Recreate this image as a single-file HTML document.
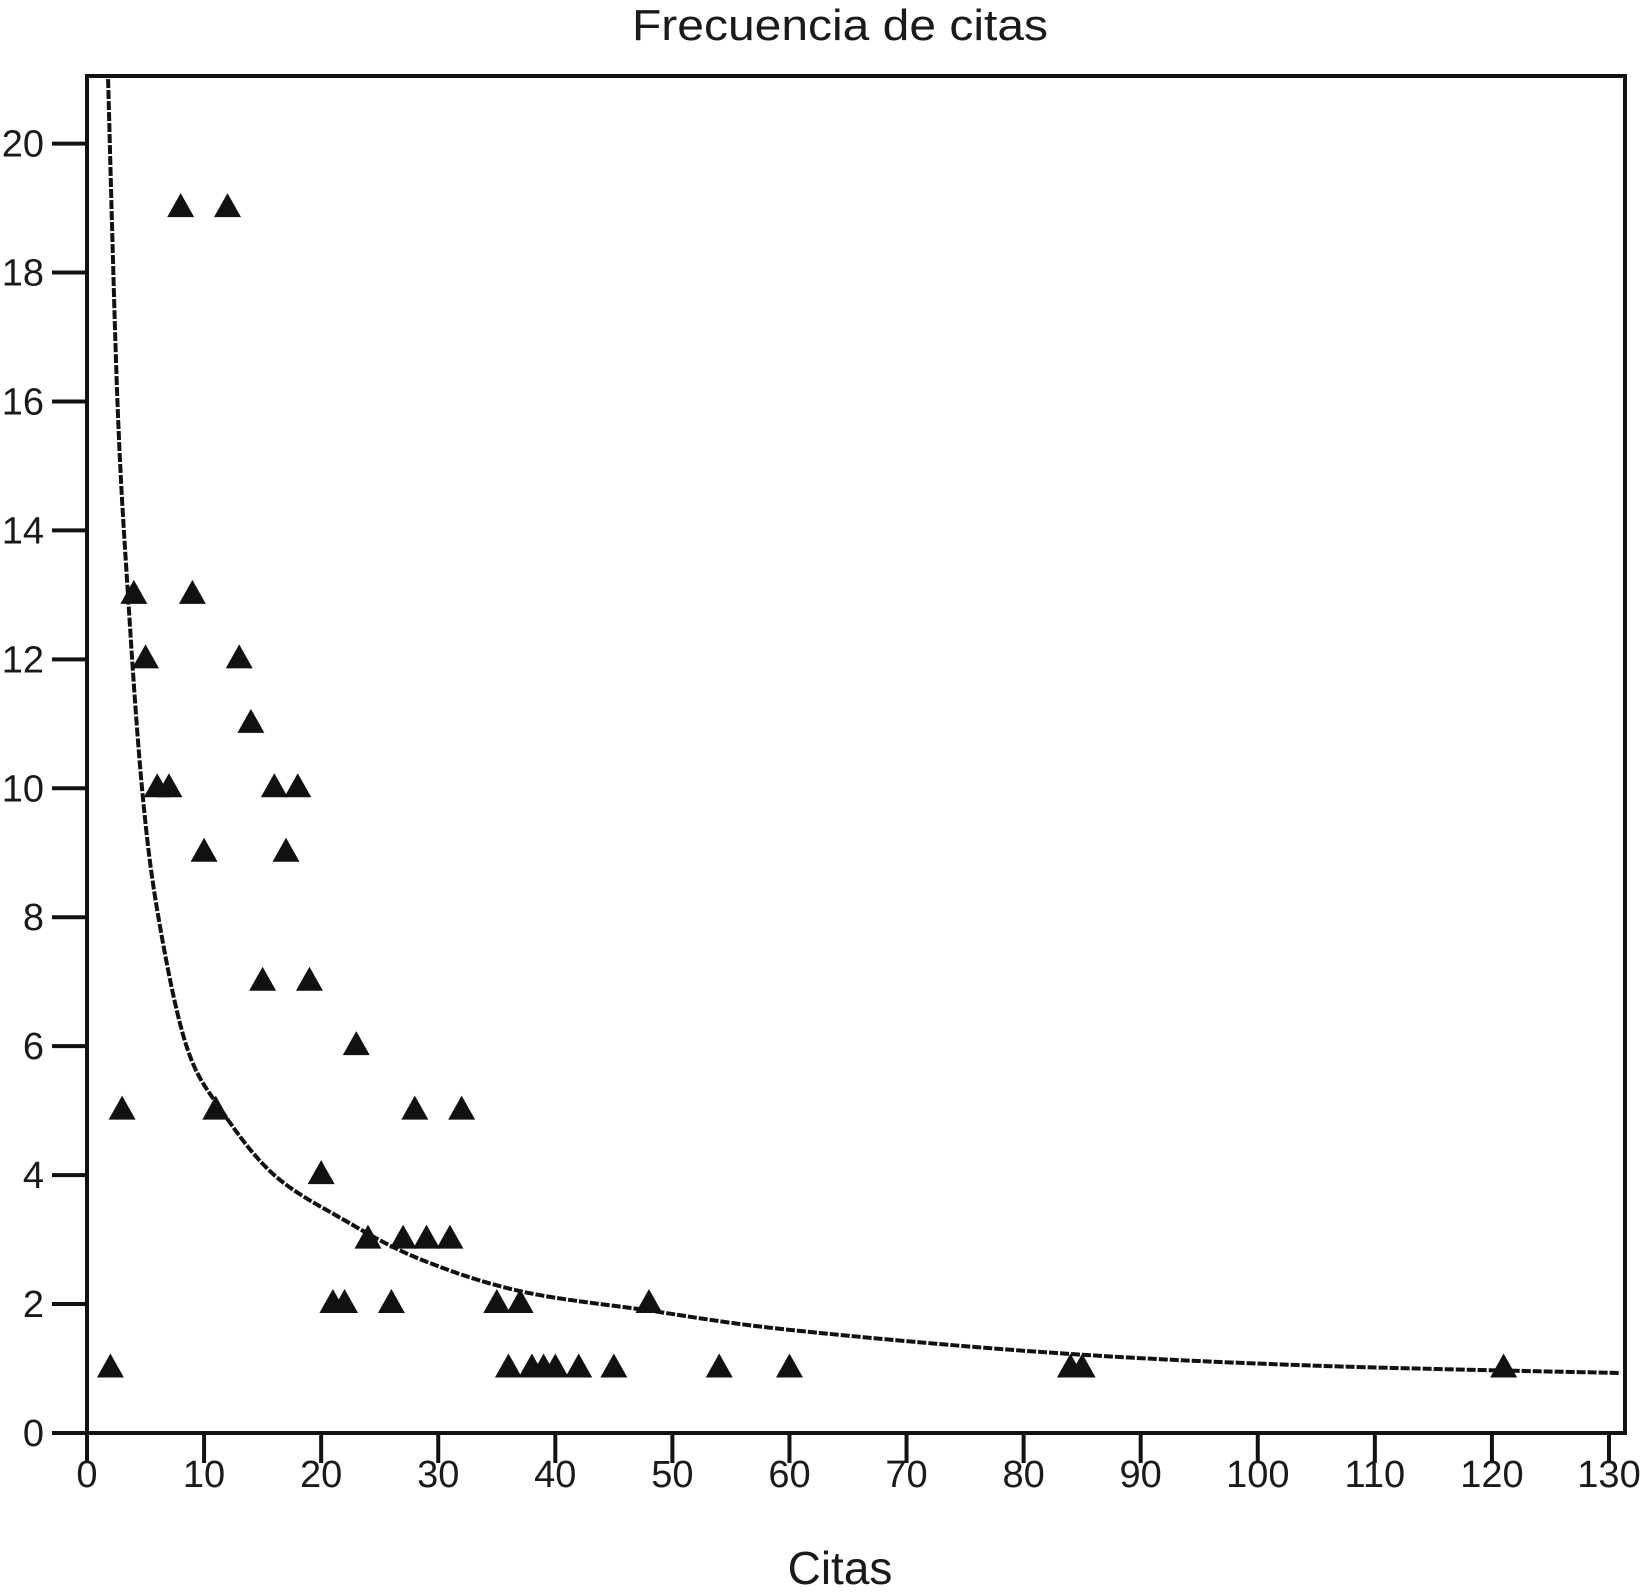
<!DOCTYPE html>
<html><head><meta charset="utf-8"><style>
html,body{margin:0;padding:0;background:#fff;}
svg{display:block;font-family:"Liberation Sans",Arial,sans-serif;}
</style></head><body>
<svg id="chart" width="1644" height="1594" viewBox="0 0 1644 1594" xmlns="http://www.w3.org/2000/svg">
<text x="840" y="40" font-size="44" text-anchor="middle" fill="#1a1a1a" textLength="416" lengthAdjust="spacingAndGlyphs">Frecuencia de citas</text>
<text x="840" y="1584" font-size="46" text-anchor="middle" fill="#1a1a1a">Citas</text>
<g id="axes"></g>
<g id="curve"></g>
<g id="points"></g>
<rect x="87" y="76" width="1538" height="1357" fill="none" stroke="#111" stroke-width="4"/>
</svg>
<script>
const xTicks = [0,10,20,30,40,50,60,70,80,90,100,110,120,130];
const yTicks = [0,2,4,6,8,10,12,14,16,18,20];
const pointX = [2,3,4,5,6,7,8,9,10,11,12,13,14,15,16,17,18,19,20,21,22,23,24,26,27,28,29,31,32,35,36,37,38,39,40,42,45,48,54,60,84,85,121];
const pointY = [1,5,13,12,10,10,19,13,9,5,19,12,11,7,10,9,10,7,4,2,2,6,3,2,3,5,3,3,5,2,1,2,1,1,1,1,1,2,1,1,1,1,1];
const curveX = [1.8,2.6,3.5,4.7,6.1,8.5,11.5,16,22,28.4,37,48,60,82,104,131];
const curveY = [21,16,13,10,8,6,5,4,3.3,2.7,2.2,1.9,1.6,1.25,1.05,0.93];

const NS='http://www.w3.org/2000/svg';
const X0=87, XS=(1609-87)/130, Y0=1433, YS=(1433-143.6)/20;
const sx=v=>X0+v*XS, sy=v=>Y0-v*YS;
function mk(tag,attrs,parent){const e=document.createElementNS(NS,tag);for(const k in attrs)e.setAttribute(k,attrs[k]);parent.appendChild(e);return e;}
const axes=document.getElementById('axes');
xTicks.forEach(t=>{
  const l=mk('line',{x1:sx(t),x2:sx(t),y1:Y0,y2:1463,stroke:'#111','stroke-width':4},axes);
  
  
  const tx=mk('text',{x:sx(t),y:1487,'font-size':38,'text-anchor':'middle',fill:'#1a1a1a'},axes);
  tx.textContent=t;
  
  
});
yTicks.forEach(t=>{
  const l=mk('line',{x1:52,x2:X0,y1:sy(t),y2:sy(t),stroke:'#111','stroke-width':4},axes);
  
  
  const tx=mk('text',{x:44,y:sy(t)+13,'font-size':38,'text-anchor':'end',fill:'#1a1a1a'},axes);
  tx.textContent=t;
  
  
});
const pts=curveX.map((x,i)=>[sx(x),sy(curveY[i])]);
let d='M'+pts[0][0]+','+pts[0][1];
for(let i=0;i<pts.length-1;i++){
  const p0=pts[Math.max(0,i-1)],p1=pts[i],p2=pts[i+1],p3=pts[Math.min(pts.length-1,i+2)];
  const c1=[p1[0]+(p2[0]-p0[0])/6,p1[1]+(p2[1]-p0[1])/6];
  const c2=[p2[0]-(p3[0]-p1[0])/6,p2[1]-(p3[1]-p1[1])/6];
  d+=' C'+c1[0]+','+c1[1]+' '+c2[0]+','+c2[1]+' '+p2[0]+','+p2[1];
}
const cp=mk('path',{d:d,fill:'none',stroke:'#111','stroke-width':4,'stroke-dasharray':'9 2'},document.getElementById('curve'));


const pg=document.getElementById('points');
pointX.forEach((x,i)=>{
  const cx=sx(x), cy=sy(pointY[i])-3;
  const tri=mk('polygon',{points:(cx)+','+(cy-12)+' '+(cx-13.5)+','+(cy+12)+' '+(cx+13.5)+','+(cy+12),fill:'#111'},pg);
  
  
});
</script>
</body></html>
